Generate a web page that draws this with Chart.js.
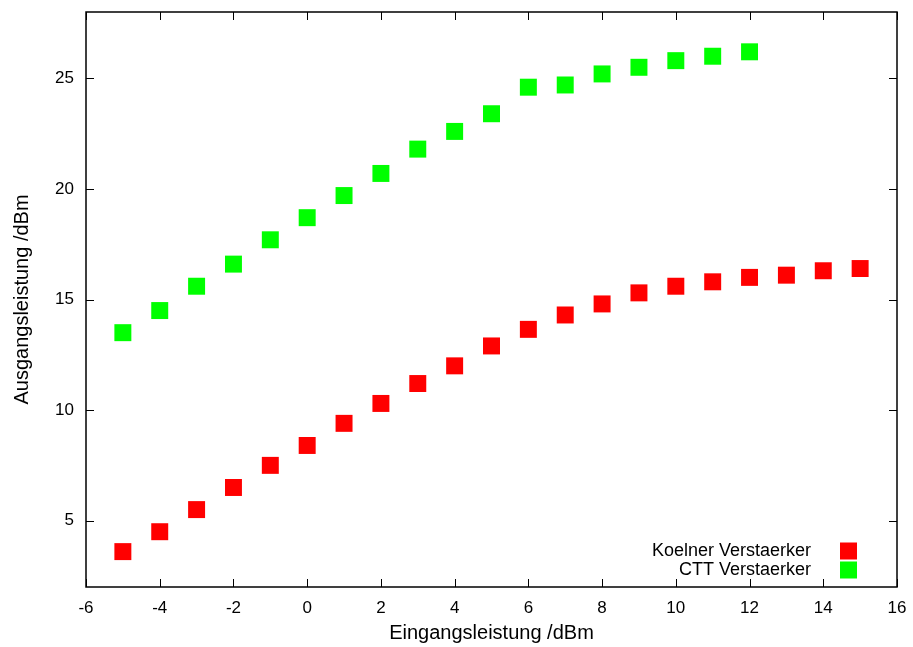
<!DOCTYPE html>
<html><head><meta charset="utf-8">
<script src="https://cdn.jsdelivr.net/npm/chart.js@4/dist/chart.umd.min.js"></script>
<style>html,body{margin:0;padding:0;background:#fff;}#wrap{width:913px;height:647px;}</style>
</head><body><div id="wrap"><canvas id="c" width="913" height="647"></canvas></div>
<script>
// Data
const inputKoelner = [-5,-4,-3,-2,-1,0,1,2,3,4,5,6,7,8,9,10,11,12,13,14,15];
const outputKoelner = [3.6,4.5,5.5,6.5,7.5,8.4,9.4,10.3,11.2,12.0,12.9,13.65,14.3,14.8,15.3,15.6,15.8,16.0,16.1,16.3,16.4];
const inputCTT = [-5,-4,-3,-2,-1,0,1,2,3,4,5,6,7,8,9,10,11,12];
const outputCTT = [13.5,14.5,15.6,16.6,17.7,18.7,19.7,20.7,21.8,22.6,23.4,24.6,24.7,25.2,25.5,25.8,26.0,26.2];
const seriesNames = ['Koelner Verstaerker','CTT Verstaerker'];
const seriesColors = ['#ff0000','#00ff00'];
const xTickValues = [-6,-4,-2,0,2,4,6,8,10,12,14,16];
const yTickValues = [5,10,15,20,25];
const xTitle = 'Eingangsleistung /dBm';
const yTitle = 'Ausgangsleistung /dBm';

const FONT = "'Liberation Sans', Arial, Helvetica, sans-serif";

const toPoints = (xs, ys) => xs.map((x, i) => ({x: x, y: ys[i]}));

const framePlugin = {
  id: 'frame',
  afterDraw(chart) {
    const ctx = chart.ctx, a = chart.chartArea;
    const xs = chart.scales.x, ys = chart.scales.y;
    const L = 8;
    ctx.save();
    ctx.strokeStyle = '#000';
    ctx.lineWidth = 1;
    ctx.beginPath();
    xs.ticks.forEach(t => {
      const px = Math.round(xs.getPixelForValue(t.value)) + 0.5;
      ctx.moveTo(px, a.bottom); ctx.lineTo(px, a.bottom - L);
      ctx.moveTo(px, a.top); ctx.lineTo(px, a.top + L);
    });
    ys.ticks.forEach(t => {
      const py = Math.round(ys.getPixelForValue(t.value)) + 0.5;
      ctx.moveTo(a.left, py); ctx.lineTo(a.left + L, py);
      ctx.moveTo(a.right, py); ctx.lineTo(a.right - L, py);
    });
    ctx.stroke();
    ctx.lineWidth = 1.5;
    ctx.strokeRect(a.left, a.top, a.right - a.left, a.bottom - a.top);
    // legend (gnuplot style: text right-aligned, key sample to the right)
    ctx.font = '18px ' + FONT;
    ctx.textAlign = 'right';
    ctx.textBaseline = 'middle';
    chart.data.datasets.forEach((ds, i) => {
      const cy = a.bottom - 36 + i * 19;
      ctx.fillStyle = '#000';
      ctx.fillText(ds.label, a.right - 86, cy);
      ctx.fillStyle = ds.backgroundColor;
      ctx.fillRect(a.right - 57, cy - 8.5, 17, 17);
    });
    ctx.restore();
  }
};

new Chart(document.getElementById('c'), {
  type: 'scatter',
  data: {
    datasets: [
      {label: seriesNames[0], data: toPoints(inputKoelner, outputKoelner), backgroundColor: seriesColors[0], borderWidth: 0, pointStyle: 'rect', pointRadius: 12, pointHoverRadius: 12},
      {label: seriesNames[1], data: toPoints(inputCTT, outputCTT), backgroundColor: seriesColors[1], borderWidth: 0, pointStyle: 'rect', pointRadius: 12, pointHoverRadius: 12}
    ]
  },
  options: {
    responsive: false,
    animation: false,
    devicePixelRatio: 1,
    layout: {padding: {top: 10, right: 16, left: 0, bottom: 0}},
    plugins: {legend: {display: false}, tooltip: {enabled: false}},
    events: [],
    scales: {
      x: {
        type: 'linear', min: -6, max: 16,
        afterBuildTicks: s => { s.ticks = xTickValues.map(v => ({value: v})); },
        afterFit: s => { s.height = 60; s.paddingLeft = 0; s.paddingRight = 0; },
        grid: {display: false, drawTicks: false},
        border: {display: false},
        ticks: {color: '#000', font: {family: FONT, size: 17}, padding: 11, maxRotation: 0, autoSkip: false},
        title: {display: true, text: xTitle, color: '#000', font: {family: FONT, size: 20}, padding: {top: 0, bottom: 2}}
      },
      y: {
        type: 'linear', min: 2, max: 28,
        afterBuildTicks: s => { s.ticks = yTickValues.map(v => ({value: v})); },
        afterFit: s => { s.width = 86; s.paddingTop = 0; s.paddingBottom = 0; },
        grid: {display: false, drawTicks: false},
        border: {display: false},
        ticks: {color: '#000', font: {family: FONT, size: 17}, padding: 12, autoSkip: false},
        title: {display: true, text: yTitle, color: '#000', font: {family: FONT, size: 20}, padding: {top: 10, bottom: 0}}
      }
    }
  },
  plugins: [framePlugin]
});
</script></body></html>
